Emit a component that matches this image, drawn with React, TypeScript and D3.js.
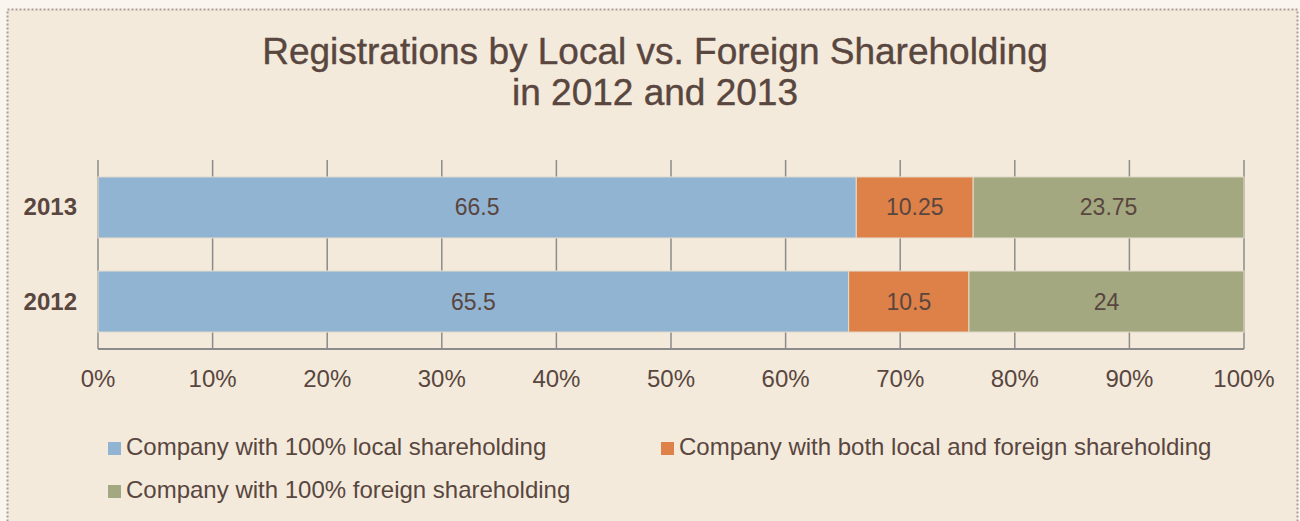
import React from "react";
import * as d3 from "d3";

const years = ["2013", "2012"];
const seriesNames = [
  "Company with 100% local shareholding",
  "Company with both local and foreign shareholding",
  "Company with 100% foreign shareholding",
];
const localVals = [66.5, 65.5];
const bothVals = [10.25, 10.5];
const foreignVals = [23.75, 24];
const tickVals = [0, 10, 20, 30, 40, 50, 60, 70, 80, 90, 100];
const colors = ["#92b4d3", "#de8149", "#a3a880"];

const W = 1300, H = 521;
const textColor = "#59463f";
const sans = "Liberation Sans, Arial, sans-serif";

export default function App() {
  const x = d3.scaleLinear().domain([0, 100]).range([98, 1244]);
  const y = d3.scaleBand().domain(years).range([160, 349]).paddingInner(0.351).paddingOuter(0.18);
  const series = [localVals, bothVals, foreignVals];
  const rows = years.map((yr, i) => {
    const total = d3.sum(series, (s) => s[i]);
    let acc = 0;
    return series.map((s, k) => {
      const x0 = acc;
      acc += (s[i] / total) * 100;
      return { yr, k, x0, x1: acc, v: s[i] };
    });
  });
  return (
    <div style={{ position: "absolute", left: 0, top: 0 }}>
      <svg width={W} height={H} style={{ display: "block" }}>
        <rect x={0} y={0} width={W} height={H} fill="#faf5ee" />
        <rect x={7.5} y={9.5} width={1290} height={540} fill="#f3eadb" stroke="#ab9c95" strokeWidth={2} strokeDasharray="2,2" />
        <text x={655} y={64} textAnchor="middle" fontFamily={sans} fontSize={37} fill={textColor} stroke={textColor} strokeWidth={0.4}>
          Registrations by Local vs. Foreign Shareholding
        </text>
        <text x={655} y={105} textAnchor="middle" fontFamily={sans} fontSize={37} fill={textColor} stroke={textColor} strokeWidth={0.4}>
          in 2012 and 2013
        </text>
        {tickVals.map((t) => (
          <g key={t}>
            <line x1={x(t)} x2={x(t)} y1={160} y2={349} stroke="#8b8b8b" strokeWidth={1.5} />
            <text x={x(t)} y={387} textAnchor="middle" fontFamily={sans} fontSize={24} fill={textColor}>
              {t}%
            </text>
          </g>
        ))}
        <line x1={x(0)} x2={x(100)} y1={349} y2={349} stroke="#8b8b8b" strokeWidth={2} />
        {rows.map((r) =>
          r.map((d) => (
            <g key={d.yr + d.k}>
              <rect x={x(d.x0)} y={y(d.yr)} width={x(d.x1) - x(d.x0)} height={y.bandwidth()} fill={colors[d.k]} stroke="#e6ddcd" strokeWidth={1} />
              <text x={(x(d.x0) + x(d.x1)) / 2} y={(y(d.yr) as number) + y.bandwidth() / 2 + 8} textAnchor="middle" fontFamily={sans} fontSize={23} fill={textColor}>
                {d.v}
              </text>
            </g>
          ))
        )}
        {years.map((yr) => (
          <text key={yr} x={77} y={(y(yr) as number) + y.bandwidth() / 2 + 8} textAnchor="end" fontFamily={sans} fontWeight="bold" fontSize={24} fill={textColor}>
            {yr}
          </text>
        ))}
        {[
          { i: 0, lx: 108, ly: 442 },
          { i: 1, lx: 661, ly: 442 },
          { i: 2, lx: 108, ly: 485 },
        ].map(({ i, lx, ly }) => (
          <g key={i}>
            <rect x={lx} y={ly} width={13} height={13} fill={colors[i]} />
            <text x={lx + 18} y={ly + 13} fontFamily={sans} fontSize={24} fill={textColor}>
              {seriesNames[i]}
            </text>
          </g>
        ))}
      </svg>
    </div>
  );
}
